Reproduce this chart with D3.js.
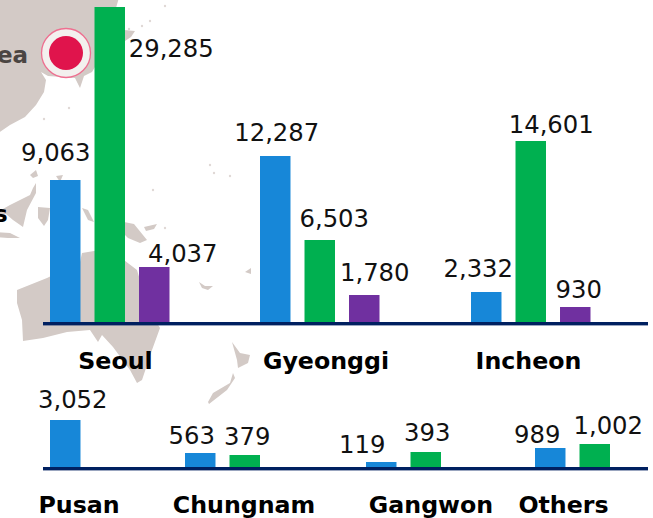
<!DOCTYPE html>
<html lang="en">
<head>
<meta charset="UTF-8" />
<title>Regional bars over map</title>
<script src="https://d3js.org/d3.v7.min.js"></script>
<style>
  html, body { margin: 0; padding: 0; background: #fff; }
  svg { display: block; }
  text { font-family: "DejaVu Sans", sans-serif; }
  .value { font-size: 24.3px; fill: #111; text-anchor: middle; }
  .cat { font-size: 23.7px; font-weight: bold; fill: #000; text-anchor: middle; }
</style>
</head>
<body>
<div id="chart"></div>
<script>
// upper row
const topCategories = ["Seoul", "Gyeonggi", "Incheon"];
const topBlue = [9063, 12287, 2332];
const topGreen = [29285, 6503, 14601];
const topPurple = [4037, 1780, 930];

// lower row
const lowCategories = ["Pusan", "Chungnam", "Gangwon", "Others"];
const lowBlue = [3052, 563, 119, 989];
const lowGreen = [null, 379, 393, 1002];

const seriesNames = ["blue", "green", "purple"];
const seriesColors = ["#1787d8", "#00b050", "#7030a0"];

const width = 653, height = 518;

const svg = d3.select("#chart").append("svg")
  .attr("width", width)
  .attr("height", height)
  .attr("viewBox", `0 0 ${width} ${height}`);

const soft = svg.append("defs").append("filter").attr("id", "soft")
  .attr("filterUnits", "userSpaceOnUse")
  .attr("x", 0).attr("y", 0).attr("width", width).attr("height", height);
soft.append("feGaussianBlur").attr("stdDeviation", 0.6);

// background map, rough outlines
const landShapes = [
  [[-6,-6],[120,-6],[116,8],[108,30],[98,62],[92,72],[84,76],[80,88],[75,78],[62,77],[48,76],[41,72],[46,80],[44,92],[36,105],[25,117],[10,125],[-6,136]],
  [[124,30],[135,31],[131,37],[125,41]],
  [[-6,214],[10,205],[30,195],[33,188],[36,183],[36,193],[27,210],[23,227],[13,220],[6,214]],
  [[38,207],[50,208],[48,220],[44,226],[38,218]],
  [[-4,232],[10,233],[20,238],[8,238],[-4,237]],
  [[30,175],[36,170],[38,176],[33,178]],
  [[56,176],[63,175],[60,182]],
  [[82,208],[88,210],[94,222],[88,220]],
  [[124,222],[134,224],[147,240],[140,243],[128,238],[122,232]],
  [[144,227],[157,224],[154,229],[146,231]],
  [[47,278],[80,262],[82,253],[100,250],[120,257],[137,270],[140,280],[157,323],[160,328],[152,350],[142,380],[137,383],[130,370],[113,347],[102,335],[98,342],[90,330],[67,332],[43,338],[23,341],[22,320],[17,303],[17,290]],
  [[232,342],[240,353],[250,355],[248,363],[238,368],[237,360]],
  [[233,373],[235,378],[227,390],[209,404],[208,402],[213,393],[230,383]],
  [[199,282],[205,286],[213,286],[208,290],[202,288]],
  [[245,272],[251,268],[251,274]]
];
const landPath = d3.line().curve(d3.curveLinearClosed);

svg.append("g")
  .attr("filter", "url(#soft)")
  .selectAll("path")
  .data(landShapes)
  .join("path")
  .attr("d", d => landPath(d))
  .attr("fill", "#d3cac6");

// specks
const specks = [[142,26],[150,21],[165,6],[69,108],[44,119],[129,29],[210,165],[214,173],[230,176],[153,190],[165,228]];
svg.append("g").attr("filter", "url(#soft)")
  .selectAll("circle").data(specks).join("circle")
  .attr("cx", d => d[0]).attr("cy", d => d[1]).attr("r", 1.2)
  .attr("fill", "#e0d9d6");

// marker and the map labels, which the picture cuts off at its left edge
svg.append("circle").attr("cx", 66).attr("cy", 53).attr("r", 24.5)
  .attr("fill", "#f3f0ee").attr("stroke", "#ee6f90").attr("stroke-width", 1.3);
svg.append("circle").attr("cx", 66).attr("cy", 53).attr("r", 17).attr("fill", "#e0144c");
svg.append("text").attr("x", -3).attr("y", 63).attr("font-size", 23)
  .attr("font-weight", "bold").attr("fill", "#4b4542").text("ea");
svg.append("text").attr("x", -6).attr("y", 222).attr("font-size", 23)
  .attr("font-weight", "bold").attr("fill", "#000").text("s");

// the picture is not drawn to one linear scale, so heights follow it knot by knot
const topHeight = d3.scaleLinear()
  .domain([0, 930, 1780, 2332, 4037, 6503, 9063, 12287, 14601, 29285])
  .range([0, 15, 27, 30, 55, 82, 142, 166, 181, 315]);
const lowHeight = d3.scaleLinear()
  .domain([0, 119, 379, 393, 563, 989, 1002, 3052])
  .range([0, 5, 12, 15, 14, 19, 23, 47]);

const inner = d3.scaleBand().domain(seriesNames).range([0, 119.5]).paddingInner(0.315);
const color = d3.scaleOrdinal().domain(seriesNames).range(seriesColors);

// [dx from bar centre, dy from bar top] of each number
const topLabelShift = {
  blue: [[-9.5, -19], [1.5, -15], [-8, -15]],
  green: [[61.5, 50], [14.5, -13], [20.5, -8]],
  purple: [[28.5, -5], [10.5, -14], [3.5, -9]]
};
const lowLabelShift = {
  blue: [[7.5, -12], [-8.5, -9], [-19, -9], [-13, -5]],
  green: [[0, 0], [2.5, -10], [1.5, -11], [13.5, -10]]
};

function drawRow(cfg) {
  const rows = cfg.series.flatMap(s => s.values.map((v, i) => ({
    name: s.name, value: v, cat: cfg.categories[i], shift: cfg.shift[s.name][i]
  }))).filter(d => d.value != null);

  const g = svg.append("g");
  const barX = d => cfg.groupX(d.cat) + inner(d.name);
  const barTop = d => cfg.base - cfg.h(d.value);

  g.selectAll("rect").data(rows).join("rect")
    .attr("x", barX)
    .attr("y", barTop)
    .attr("width", inner.bandwidth())
    .attr("height", d => cfg.h(d.value))
    .attr("fill", d => color(d.name));

  g.selectAll(".value").data(rows).join("text")
    .attr("class", "value")
    .attr("x", d => barX(d) + inner.bandwidth() / 2 + d.shift[0])
    .attr("y", d => barTop(d) + d.shift[1])
    .text(d => d3.format(",")(d.value));

  g.append("rect")
    .attr("x", 43).attr("y", cfg.base).attr("width", 605).attr("height", 3.4)
    .attr("fill", "#002060");

  g.selectAll(".cat").data(cfg.categories).join("text")
    .attr("class", "cat")
    .attr("x", cfg.labelX)
    .attr("y", cfg.labelY)
    .text(d => d);
}

drawRow({
  categories: topCategories,
  series: [
    { name: "blue", values: topBlue },
    { name: "green", values: topGreen },
    { name: "purple", values: topPurple }
  ],
  shift: topLabelShift,
  groupX: d3.scaleOrdinal().domain(topCategories).range([50, 260, 471]),
  h: topHeight,
  base: 322,
  labelX: d3.scaleOrdinal().domain(topCategories).range([115.5, 326, 528.5]),
  labelY: 369
});

drawRow({
  categories: lowCategories,
  series: [
    { name: "blue", values: lowBlue },
    { name: "green", values: lowGreen }
  ],
  shift: lowLabelShift,
  groupX: d3.scaleOrdinal().domain(lowCategories).range([50, 185, 366, 535]),
  h: lowHeight,
  base: 467,
  labelX: d3.scaleOrdinal().domain(lowCategories).range([79, 244, 431, 563.5]),
  labelY: 513
});
</script>
</body>
</html>
